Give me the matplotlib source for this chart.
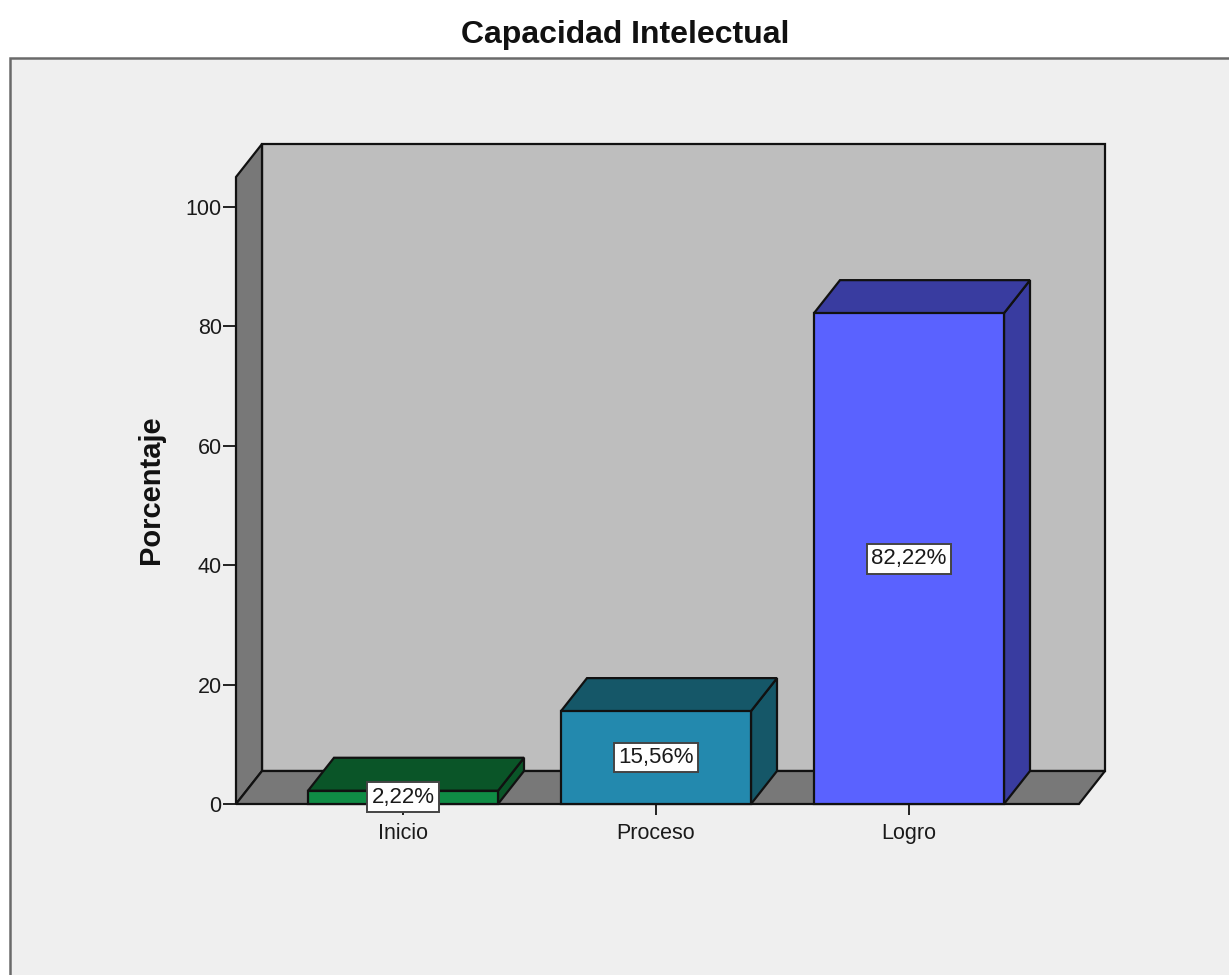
import matplotlib
matplotlib.use("Agg")
import matplotlib.pyplot as plt
from matplotlib.patches import Polygon, Rectangle

plt.rcParams['font.family'] = ['Liberation Sans', 'DejaVu Sans']

categories = ["Inicio", "Proceso", "Logro"]
values = [2.22, 15.56, 82.22]
value_labels = ["2,22%", "15,56%", "82,22%"]
yticks = [0, 20, 40, 60, 80, 100]
front_colors = ["#0F8C45", "#2389AE", "#5A62FF"]
dark_colors = ["#0A5528", "#155768", "#393CA0"]

W, H = 1229, 975
fig = plt.figure(figsize=(W / 100, H / 100), dpi=100, facecolor="white")

# outer panel
fig.add_artist(Rectangle((10 / W, -0.02), 1.02, 1.02 - 58 / H, transform=fig.transFigure,
                         facecolor="#EFEFEF", edgecolor="#6A6A6A", linewidth=1.8, zorder=-5))

ax = fig.add_axes([236 / W, (H - 804) / H, 843 / W, 627 / H], zorder=2)
ax.set_xlim(-167 / 253, 676 / 253)
ax.set_ylim(0, 627 / 5.97)
ax.patch.set_alpha(0)
for s in ax.spines.values():
    s.set_visible(False)

dx, dy = 26 / 253, 33 / 5.97   # oblique depth
x0, x1 = ax.get_xlim()
y0, y1 = ax.get_ylim()
bar_w = 190 / 253
LW = 1.6


def poly(pts, fc, z=1):
    ax.add_patch(Polygon(pts, closed=True, facecolor=fc, edgecolor="#111111",
                         linewidth=LW, clip_on=False, zorder=z, joinstyle="miter"))


# walls and floor
poly([(x0 + dx, y0 + dy), (x1 + dx, y0 + dy), (x1 + dx, y1 + dy), (x0 + dx, y1 + dy)], "#BEBEBE", 1)
poly([(x0, y0), (x0 + dx, y0 + dy), (x0 + dx, y1 + dy), (x0, y1)], "#787878", 1)
poly([(x0, y0), (x1, y0), (x1 + dx, y0 + dy), (x0 + dx, y0 + dy)], "#787878", 1)

# bars
for i, v in enumerate(values):
    l, r = i - bar_w / 2, i + bar_w / 2
    poly([(r, 0), (r + dx, dy), (r + dx, v + dy), (r, v)], dark_colors[i], 3)
    poly([(l, v), (r, v), (r + dx, v + dy), (l + dx, v + dy)], dark_colors[i], 3)
    poly([(l, 0), (r, 0), (r, v), (l, v)], front_colors[i], 4)
    ax.text(i, v / 2, value_labels[i], ha="center", va="center", fontsize=16,
            color="#1A1A1A", zorder=6, clip_on=False,
            bbox=dict(boxstyle="square,pad=0.2", facecolor="white", edgecolor="#444444", linewidth=1.4))

ax.set_xticks(range(len(categories)), categories)
ax.set_yticks(yticks)
ax.tick_params(axis="y", length=9.5, width=1.4, color="#222222", labelsize=15.5,
               labelcolor="#1A1A1A", pad=0.8)
ax.tick_params(axis="x", length=8, width=1.4, color="#222222", labelsize=15.5,
               labelcolor="#1A1A1A", pad=6)
ax.set_axisbelow(True)

fig.text(625 / W, 1 - 35 / H, "Capacidad Intelectual", ha="center", va="center",
         fontsize=23, fontweight="bold", color="#111111")
fig.text(151 / W, 1 - 490 / H, "Porcentaje", ha="center", va="center", rotation=90,
         fontsize=21, fontweight="bold", color="#111111")

fig.savefig("out.png", dpi=100, facecolor="white")
